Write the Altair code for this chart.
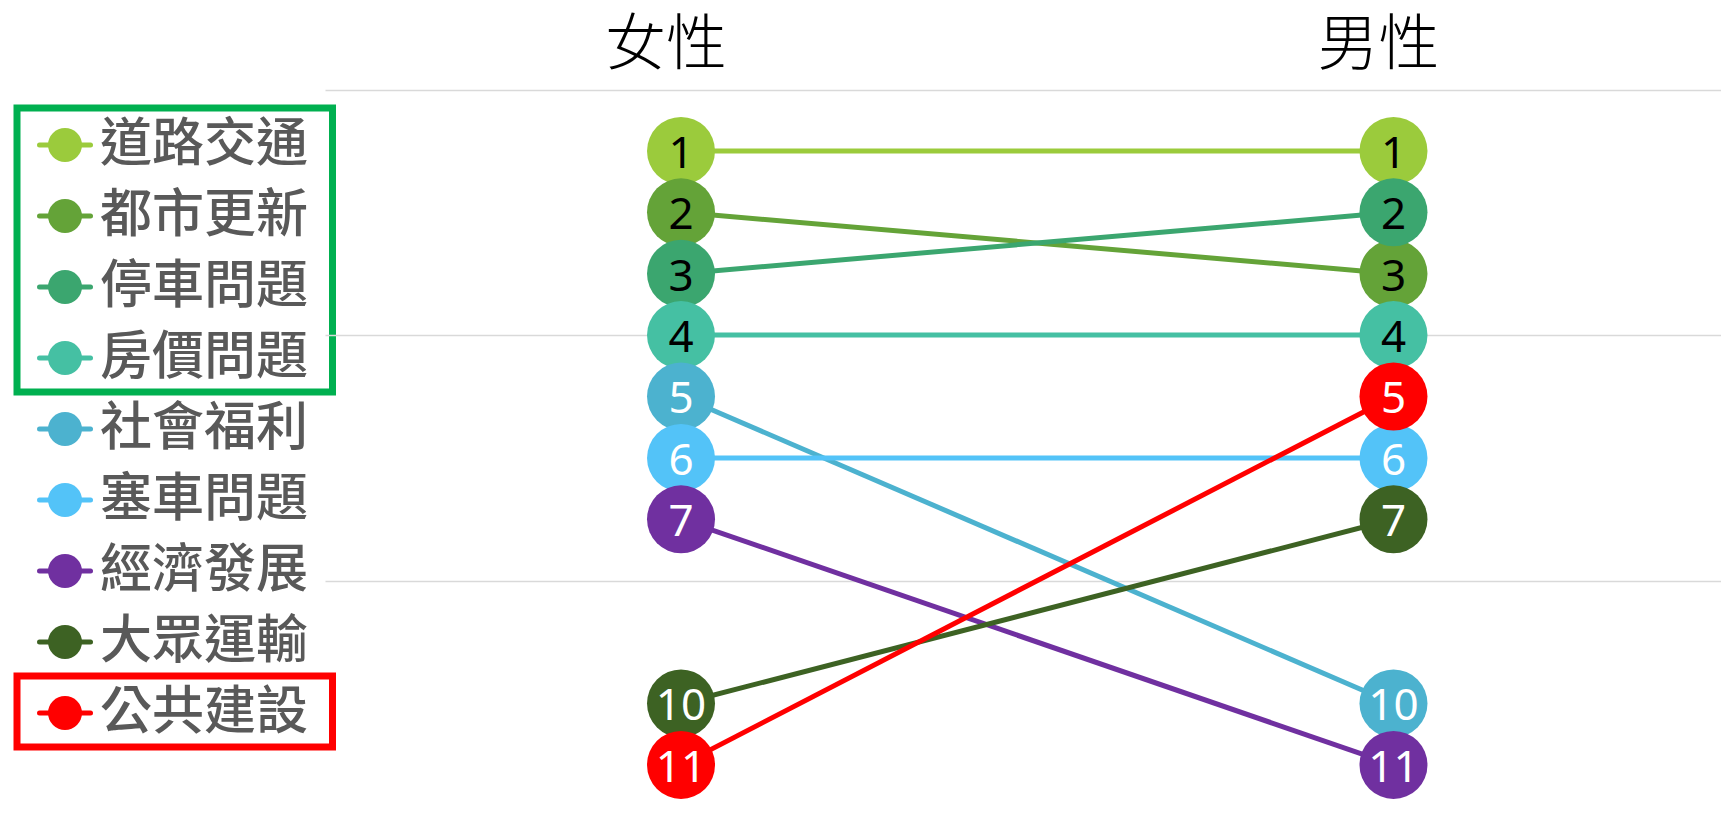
import altair as alt
import pandas as pd

# ---- data ----
items = ["道路交通", "都市更新", "停車問題", "房價問題", "社會福利",
         "塞車問題", "經濟發展", "大眾運輸", "公共建設"]
colors = ["#9BCB3C", "#64A338", "#3BA66F", "#45C0A3", "#4CB2CF",
          "#53C3F8", "#7030A0", "#3D6223", "#FF0000"]
female_rank = [1, 2, 3, 4, 5, 6, 7, 10, 11]
male_rank = [1, 3, 2, 4, 10, 6, 11, 7, 5]
genders = ["女性", "男性"]
grid_ranks = [0, 4, 8]

# legend highlight groups (first index, last index, colour)
box_groups = [(0, 3, "#00B050"), (8, 8, "#FF0000")]

FONT_CJK = "Noto Sans CJK TC"

rows = []
for i, it in enumerate(items):
    for gi, g in enumerate(genders):
        r = female_rank[i] if gi == 0 else male_rank[i]
        rows.append({"item": it, "gender": g, "gx": gi, "rank": r, "order": i})
df = pd.DataFrame(rows)

leg_df = pd.DataFrame({"item": items, "i": list(range(len(items)))})
box_df = pd.DataFrame({
    "y": [a - 0.52 for a, b, c in box_groups],
    "y2": [b + 0.48 for a, b, c in box_groups],
    "c": [c for a, b, c in box_groups],
})
head_df = pd.DataFrame({"label": genders, "gx": list(range(len(genders)))})

color_scale = alt.Scale(domain=items, range=colors)

# ---- right panel (slope chart) ----
RW, H = 1396, 806
xs = alt.X("gx:Q", scale=alt.Scale(domain=[-0.4997, 1.4597], nice=False, zero=False), axis=None)
ys = alt.Y("rank:Q",
           scale=alt.Scale(domain=[-1.3274, 11.800], reverse=True, nice=False, zero=False),
           axis=alt.Axis(values=grid_ranks, grid=True, labels=False, ticks=False,
                         domain=False, title=None, gridColor="#D9D9D9", gridWidth=1.5))

base = alt.Chart(df).encode(x=xs, y=ys)

lines = base.mark_line(strokeWidth=5).encode(
    color=alt.Color("item:N", scale=color_scale, legend=None),
    detail="item:N",
    order="gx:Q",
)
points = base.mark_point(filled=True, shape="circle", size=4624, opacity=1, strokeWidth=0).encode(
    color=alt.Color("item:N", scale=color_scale, legend=None),
    order="order:Q",
)
labels = base.mark_text(font="Noto Sans", fontSize=44, align="center", baseline="middle", dy=4).encode(
    text="rank:Q",
    color=alt.condition(alt.datum.rank <= 4, alt.value("#000000"), alt.value("#FFFFFF")),
)
headers = alt.Chart(head_df).mark_text(font=FONT_CJK, fontSize=61, fontWeight=300, align="center",
                                        baseline="middle", dx=-15, color="#000000").encode(
    x=xs, y=alt.value(39), text="label:N"
)

right = alt.layer(lines, points, labels, headers).properties(width=RW, height=H)

# ---- left panel (legend) ----
LW = 317
ly = alt.Y("i:Q", scale=alt.Scale(domain=[-1.9296, 9.4225], reverse=True, nice=False, zero=False),
           axis=None)
lbase = alt.Chart(leg_df).encode(y=ly)

leg_lines = lbase.mark_rule(strokeWidth=5, strokeCap="round").encode(
    x=alt.value(31.5), x2=alt.value(82.5),
    color=alt.Color("item:N", scale=color_scale, legend=None),
)
leg_pts = lbase.mark_point(filled=True, shape="circle", size=1156, opacity=1, strokeWidth=0).encode(
    x=alt.value(57),
    color=alt.Color("item:N", scale=color_scale, legend=None),
)
leg_text = lbase.mark_text(font=FONT_CJK, fontSize=52, fontWeight=500, align="left", baseline="middle",
                           color="#595959").encode(
    x=alt.value(92), text="item:N"
)
boxes = alt.Chart(box_df).mark_rect(fillOpacity=0, strokeWidth=7).encode(
    x=alt.value(9), x2=alt.value(324.5),
    y=alt.Y("y:Q", scale=alt.Scale(domain=[-1.9296, 9.4225], reverse=True, nice=False, zero=False),
            axis=None),
    y2="y2:Q",
    stroke=alt.Stroke("c:N", scale=None),
)

left = alt.layer(leg_lines, leg_pts, leg_text, boxes).properties(width=LW, height=H)

chart = alt.hconcat(left, right, spacing=0, bounds="flush", padding=0).configure_view(
    strokeWidth=0
).resolve_scale(y="independent")

chart.save("out.html", embed_options={"renderer": "svg", "actions": False})
